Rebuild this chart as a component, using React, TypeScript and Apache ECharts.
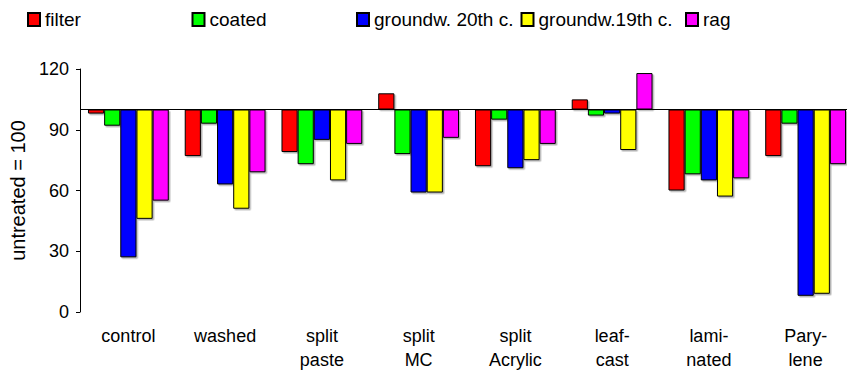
import React, { useEffect, useRef } from "react";
import * as echarts from "echarts";

const categories = [
  "control",
  "washed",
  "split\npaste",
  "split\nMC",
  "split\nAcrylic",
  "leaf-\ncast",
  "lami-\nnated",
  "Pary-\nlene",
];
const filterValues = [98, 77, 79, 108, 72, 105, 60, 77];
const coatedValues = [92, 93, 73, 78, 95, 97, 68, 93];
const groundw20Values = [27, 63, 85, 59, 71, 98, 65, 8];
const groundw19Values = [46, 51, 65, 59, 75, 80, 57, 9];
const ragValues = [55, 69, 83, 86, 83, 118, 66, 73];
const seriesNames = ["filter", "coated", "groundw. 20th c.", "groundw.19th c.", "rag"];
const seriesColors = ["#ff0000", "#00ff00", "#0000ff", "#ffff00", "#ff00ff"];
const baselineValue = 100;
const yMin = 0;
const yMax = 120;
const yInterval = 30;

const FONT = "'Liberation Sans', Arial, sans-serif";

export default function App() {
  const ref = useRef<HTMLDivElement>(null);
  useEffect(() => {
    if (!ref.current) return;
    const chart = echarts.init(ref.current, undefined, { renderer: "svg" });
    const allValues = [filterValues, coatedValues, groundw20Values, groundw19Values, ragValues];
    const series: any[] = [];
    allValues.forEach((vals, i) => {
      const name = seriesNames[i];
      series.push({
        type: "bar",
        name: name + " base",
        stack: "s" + i,
        barGap: "0%",
        barCategoryGap: "16.5%",
        silent: true,
        itemStyle: { color: "rgba(0,0,0,0)", borderWidth: 0 },
        data: vals.map((v) => Math.min(v, baselineValue)),
      });
      const s: any = {
        type: "bar",
        name,
        stack: "s" + i,
        barGap: "0%",
        barCategoryGap: "16.5%",
        itemStyle: {
          color: seriesColors[i],
          borderColor: "#000",
          borderWidth: 1,
          shadowColor: "rgba(0,0,0,0.3)",
          shadowOffsetX: 1.5,
          shadowOffsetY: 1.5,
          shadowBlur: 1,
        },
        data: vals.map((v) => Math.abs(v - baselineValue)),
      };
      if (i === 0) {
        s.markLine = {
          silent: true,
          symbol: ["none", "none"],
          label: { show: false },
          lineStyle: { color: "#000", width: 1, type: "solid" },
          data: [{ yAxis: baselineValue }],
        };
      }
      series.push(s);
    });
    const legends = seriesNames.map((n, i) => ({
      data: [n],
      left: 22 + i * 164.5,
      top: 5,
      itemWidth: 12,
      itemHeight: 13,
      selectedMode: false,
      icon: "rect",
      textStyle: { fontSize: 19, fontFamily: FONT, color: "#000" },
    }));
    chart.setOption({
      animation: false,
      backgroundColor: "#fff",
      legend: legends,
      grid: { left: 78, top: 69, width: 776, height: 243 },
      xAxis: {
        type: "category",
        data: categories,
        axisLine: { show: false },
        axisTick: { show: false },
        axisLabel: {
          fontSize: 18,
          fontFamily: FONT,
          color: "#000",
          lineHeight: 24,
          margin: 12,
        },
      },
      yAxis: {
        type: "value",
        min: yMin,
        max: yMax,
        interval: yInterval,
        name: "untreated = 100",
        nameLocation: "middle",
        nameGap: 52,
        nameTextStyle: { fontSize: 20, fontFamily: FONT, color: "#000" },
        splitLine: { show: false },
        axisLine: { show: true, lineStyle: { color: "#000", width: 1 } },
        axisTick: { show: true, length: 4, lineStyle: { color: "#000" } },
        axisLabel: { fontSize: 18, fontFamily: FONT, color: "#000", margin: 11 },
      },
      series,
    });
    return () => chart.dispose();
  }, []);
  return (
    <div
      style={{
        position: "fixed",
        left: 0,
        top: 0,
        width: 847,
        height: 379,
        overflow: "hidden",
        background: "#fff",
      }}
    >
      <div ref={ref} style={{ width: 860, height: 379 }} />
    </div>
  );
}
